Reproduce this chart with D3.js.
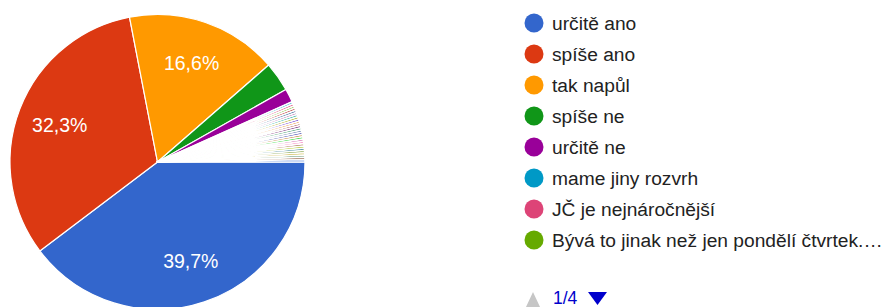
<!DOCTYPE html>
<html>
<head>
<meta charset="utf-8">
<script src="https://cdn.jsdelivr.net/npm/d3@7"></script>
<style>
  html, body { margin: 0; padding: 0; background: #fff; }
  svg { display: block; font-family: "Liberation Sans", Arial, sans-serif; }
</style>
</head>
<body>
<svg id="chart" width="895" height="307"></svg>
<script>
// ---- data ----
const categories = [
  "určitě ano", "spíše ano", "tak napůl", "spíše ne", "určitě ne",
  "mame jiny rozvrh", "JČ je nejnáročnější", "Bývá to jinak než jen pondělí čtvrtek.…",
  "odpověď 9", "odpověď 10", "odpověď 11", "odpověď 12", "odpověď 13", "odpověď 14",
  "odpověď 15", "odpověď 16", "odpověď 17", "odpověď 18", "odpověď 19", "odpověď 20",
  "odpověď 21", "odpověď 22", "odpověď 23", "odpověď 24", "odpověď 25", "odpověď 26",
  "odpověď 27", "odpověď 28", "odpověď 29", "odpověď 30", "odpověď 31", "odpověď 32"
];
const counts = [
  160, 130, 67, 13, 6,
  1, 1, 1,
  1, 1, 1, 1, 1, 1,
  1, 1, 1, 1, 1, 1,
  1, 1, 1, 1, 1, 1,
  1, 1, 1, 1, 1, 1
];
const palette = [
  "#3366cc", "#dc3912", "#ff9900", "#109618", "#990099", "#0099c6", "#dd4477", "#66aa00",
  "#b82e2e", "#316395", "#994499", "#22aa99", "#aaaa11", "#6633cc", "#e67300", "#8b0707",
  "#651067", "#329262", "#5574a6", "#3b3eac", "#b77322", "#16d620", "#b91383", "#f4359e",
  "#9c5935", "#a9c413", "#2a778d", "#668d1c", "#bea413", "#0c5922", "#743411", "#3366cc"
];
const pageLabel = "1/4";
const legendPageSize = 8;

// ---- layout ----
const svg = d3.select("#chart");
const cx = 157.5, cy = 162, radius = 147.5;
const total = d3.sum(counts);

const data = categories.map((c, i) => ({ name: c, value: counts[i], color: palette[i] }));

const pie = d3.pie()
  .value(d => d.value)
  .sort(null)
  .startAngle(Math.PI / 2)
  .endAngle(Math.PI / 2 + 2 * Math.PI);

const arcs = pie(data);
const arc = d3.arc().innerRadius(0).outerRadius(radius);

const g = svg.append("g").attr("transform", `translate(${cx},${cy})`);
g.selectAll("path.slice")
  .data(arcs)
  .join("path")
  .attr("class", "slice")
  .attr("d", arc)
  .attr("fill", d => d.data.color)
  .attr("stroke", "#fff")
  .attr("stroke-width", d => (d.data.value / total < 0.01 ? 1.6 : 1.2))
  .attr("stroke-linejoin", "round");

const fmt = v => (v * 100).toFixed(1).replace(".", ",") + "%";
const labelArc = d3.arc().innerRadius(radius * 0.71).outerRadius(radius * 0.71);
g.selectAll("text.pct")
  .data(arcs.filter(d => d.data.value / total >= 0.05))
  .join("text")
  .attr("class", "pct")
  .attr("transform", d => { const [x, y] = labelArc.centroid(d); return `translate(${x},${y})`; })
  .attr("text-anchor", "middle")
  .attr("dy", "0.36em")
  .attr("fill", "#fff")
  .attr("font-size", 19.5)
  .text(d => fmt(d.value / total));

// ---- legend ----
const legendX = 534, legendY0 = 23, legendStep = 31;
const legendItems = data.slice(0, legendPageSize);
const lg = svg.append("g");
const rows = lg.selectAll("g.item")
  .data(legendItems)
  .join("g")
  .attr("class", "item")
  .attr("transform", (d, i) => `translate(${legendX},${legendY0 + i * legendStep})`);
rows.append("circle").attr("r", 9.5).attr("fill", d => d.color);
rows.append("text")
  .attr("x", 18)
  .attr("dy", "0.36em")
  .attr("font-size", 19.2)
  .attr("fill", "#222")
  .text(d => d.name);

// ---- pager ----
const pg = svg.append("g").attr("transform", "translate(533,298)");
pg.append("path").attr("d", "M-7,9 L0,-6 L7,9 Z").attr("fill", "#c6c6c6");
pg.append("text")
  .attr("x", 20).attr("dy", "0.34em")
  .attr("font-size", 17.5).attr("fill", "#0000cc")
  .text(pageLabel);
pg.append("path").attr("d", "M55,-6 L74,-6 L64.5,7 Z").attr("fill", "#0000cc");
</script>
</body>
</html>
